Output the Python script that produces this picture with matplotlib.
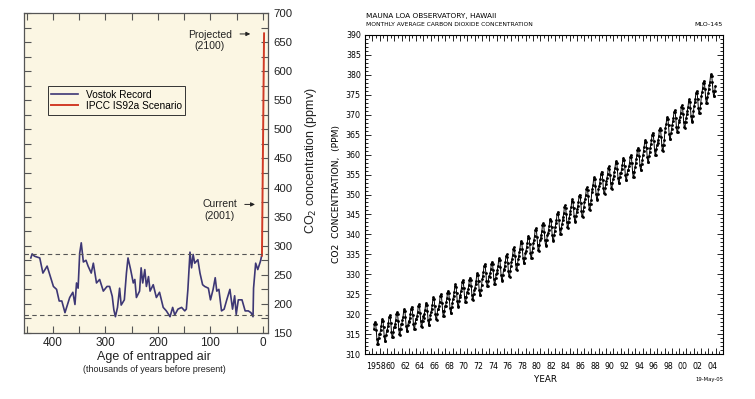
import numpy as np
import matplotlib
matplotlib.use("Agg")
import matplotlib.pyplot as plt
from matplotlib.ticker import MultipleLocator, FixedLocator, FuncFormatter, NullFormatter

# --- Vostok ice core (left panel) ---
vostok_age = [442, 439.5, 435, 425, 419, 411, 399, 393, 388, 383, 377, 368, 362, 358,
              355, 352, 349, 346, 342, 337, 333, 327, 323, 317, 311, 304, 297, 292,
              287, 284, 281, 277, 273, 270, 264, 260, 257, 252, 247, 244, 241, 235,
              232, 229, 225, 222, 218, 215, 209, 203, 197, 190, 184, 177, 172, 168,
              162, 155, 149, 146, 143, 139, 136, 133, 130, 124, 120, 115, 111, 104,
              100, 95, 91, 88, 84, 79, 74, 69, 63, 58, 54, 51, 47, 40, 34, 28, 23,
              19, 18, 14, 10, 5, 2]
vostok_co2 = [279, 286, 282, 279, 253, 265, 230, 225, 205, 205, 185, 211, 220, 199,
              236, 227, 287, 305, 272, 275, 265, 253, 270, 236, 242, 222, 230, 230,
              213, 190, 178, 194, 227, 198, 207, 253, 279, 259, 236, 242, 211, 222,
              262, 236, 259, 230, 247, 222, 233, 211, 220, 194, 188, 178, 194, 181,
              191, 194, 188, 191, 225, 289, 262, 285, 270, 276, 253, 233, 230, 227,
              207, 225, 245, 222, 225, 188, 191, 207, 225, 191, 214, 182, 207, 207,
              188, 188, 185, 178, 227, 270, 259, 273, 285]
ipcc_age = [2, -2]
ipcc_co2 = [283, 665]
glacial_band = [181, 285]

# --- Mauna Loa (right panel) ---
mlo_years = list(range(1958, 2005))
mlo_annual = [315.2, 315.98, 316.91, 317.64, 318.45, 318.99, 319.62, 320.04, 321.38,
              322.16, 323.04, 324.62, 325.68, 326.32, 327.46, 329.68, 330.25, 331.15,
              332.15, 333.90, 335.50, 336.85, 338.69, 339.93, 341.13, 342.78, 344.42,
              345.90, 347.15, 348.93, 351.48, 352.91, 354.19, 355.59, 356.37, 357.04,
              358.89, 360.88, 362.64, 363.76, 366.63, 368.31, 369.48, 371.02, 373.10,
              375.64, 377.38]
# monthly departure from the annual mean (Jan..Dec)
mlo_season = [-0.9, 0.0, 0.95, 2.35, 2.85, 2.3, 0.75, -1.4, -2.65, -2.75, -1.3, -0.2]

t, c = [], []
for yr, mean in zip(mlo_years, mlo_annual):
    for m, off in enumerate(mlo_season):
        if yr == 1958 and m < 2:
            continue  # record starts March 1958
        t.append(yr + (m + 0.5) / 12)
        c.append(mean + off)

W, H = 755, 399
fig = plt.figure(figsize=(W / 100, H / 100), dpi=100)

bg = "#FBF6E3"
purple = "#3D3775"
red = "#D13B26"
lfont = "Liberation Sans"

# ---------------- left panel ----------------
ax = fig.add_axes([24 / W, 1 - 333 / H, 244 / W, 320 / H])
ax.set_facecolor(bg)
ax.plot(vostok_age, vostok_co2, color=purple, lw=1.2, label="Vostok Record")
ax.plot(ipcc_age, ipcc_co2, color=red, lw=1.4, label="IPCC IS92a Scenario")
for v in glacial_band:
    ax.axhline(v, color="#555555", lw=0.8, ls=(0, (4, 3)))
ax.set_xlim(455, -9.5)
ax.set_ylim(150, 700)
ax.xaxis.set_major_locator(MultipleLocator(100))
ax.xaxis.set_minor_locator(MultipleLocator(50))
ax.yaxis.set_major_locator(MultipleLocator(50))
ax.yaxis.set_minor_locator(MultipleLocator(25))
ax.tick_params(which="both", direction="in", top=True, right=True, left=True,
               labelleft=False, labelright=True, color="#555555", width=0.8,
               length=5)
ax.tick_params(axis="x", labelsize=8.5, pad=3)
ax.tick_params(axis="y", labelsize=8.2, pad=4)
for lab in ax.get_xticklabels() + ax.get_yticklabels():
    lab.set_fontfamily(lfont)
    lab.set_color("#222222")
for s in ax.spines.values():
    s.set_color("#555555")
    s.set_linewidth(0.9)

leg = ax.legend(loc="upper left", bbox_to_anchor=(0.098, 0.772), fancybox=False,
                framealpha=1, facecolor=bg, edgecolor="#333333",
                handlelength=2.6, borderpad=0.35, labelspacing=0.15,
                borderaxespad=0, prop={"family": lfont, "size": 7.3})
leg.get_frame().set_linewidth(0.7)

ax.text(101, 653, "Projected\n(2100)", ha="center", va="center", fontsize=7.5,
        family=lfont, color="#222222", linespacing=1.2)
ax.annotate("", xy=(19, 664), xytext=(49, 664),
            arrowprops=dict(arrowstyle="-|>", color="#222222", lw=0.7,
                            mutation_scale=6))
ax.text(82, 361, "Current\n(2001)", ha="center", va="center", fontsize=7.5,
        family=lfont, color="#222222", linespacing=1.2)
ax.annotate("", xy=(10, 371), xytext=(40, 371),
            arrowprops=dict(arrowstyle="-|>", color="#222222", lw=0.7,
                            mutation_scale=6))

fig.text(311 / W, 1 - 161 / H, "CO$_2$ concentration (ppmv)", rotation=90,
         ha="center", va="center", fontsize=9, family=lfont, color="#222222")
fig.text(154 / W, 1 - 357 / H, "Age of entrapped air", ha="center", va="center",
         fontsize=9, family=lfont, color="#222222")
fig.text(154 / W, 1 - 369 / H, "(thousands of years before present)", ha="center",
         va="center", fontsize=6.5, family=lfont, color="#222222")

# ---------------- right panel ----------------
ax2 = fig.add_axes([365 / W, 1 - 354 / H, 358 / W, 319 / H])
ax2.plot(t, c, color="black", lw=0.7, marker="o", ms=2.0, mew=0)
ax2.set_xlim(1957, 2006)
ax2.set_ylim(310, 390)

# year boundaries get the long ticks, labels sit at mid-year
ax2.xaxis.set_major_locator(MultipleLocator(1))
ax2.xaxis.set_major_formatter(NullFormatter())
ax2.xaxis.set_minor_locator(FixedLocator(np.arange(1957.5, 2006, 1)))


def year_fmt(v, pos):
    y = int(np.floor(v))
    if y % 2:
        return ""
    return "1958" if y == 1958 else "%02d" % (y % 100)


ax2.xaxis.set_minor_formatter(FuncFormatter(year_fmt))
ax2.yaxis.set_major_locator(MultipleLocator(5))
ax2.yaxis.set_minor_locator(MultipleLocator(1))
ax2.tick_params(which="both", direction="in", top=True, right=True, width=0.6,
                labelsize=5.7)
ax2.tick_params(which="major", length=4, pad=4)
ax2.tick_params(which="minor", length=2)
ax2.tick_params(axis="x", which="minor", pad=6)
ax2.tick_params(axis="y", which="major", pad=3)
for s in ax2.spines.values():
    s.set_linewidth(0.8)

fig.text(366 / W, 1 - 16 / H, "MAUNA LOA OBSERVATORY, HAWAII", ha="left",
         va="center", fontsize=5.3)
fig.text(366 / W, 1 - 25 / H, "MONTHLY AVERAGE CARBON DIOXIDE CONCENTRATION",
         ha="left", va="center", fontsize=4.3)
fig.text(723 / W, 1 - 25 / H, "MLO-145", ha="right", va="center", fontsize=4.6)
fig.text(546 / W, 1 - 379 / H, "YEAR", ha="center", va="center", fontsize=6.3)
fig.text(723 / W, 1 - 379 / H, "19-May-05", ha="right", va="center", fontsize=3.8)
fig.text(337 / W, 1 - 194 / H, "CO2  CONCENTRATION,  (PPM)", rotation=90,
         ha="center", va="center", fontsize=6.6)

fig.savefig("out.png", dpi=100)
